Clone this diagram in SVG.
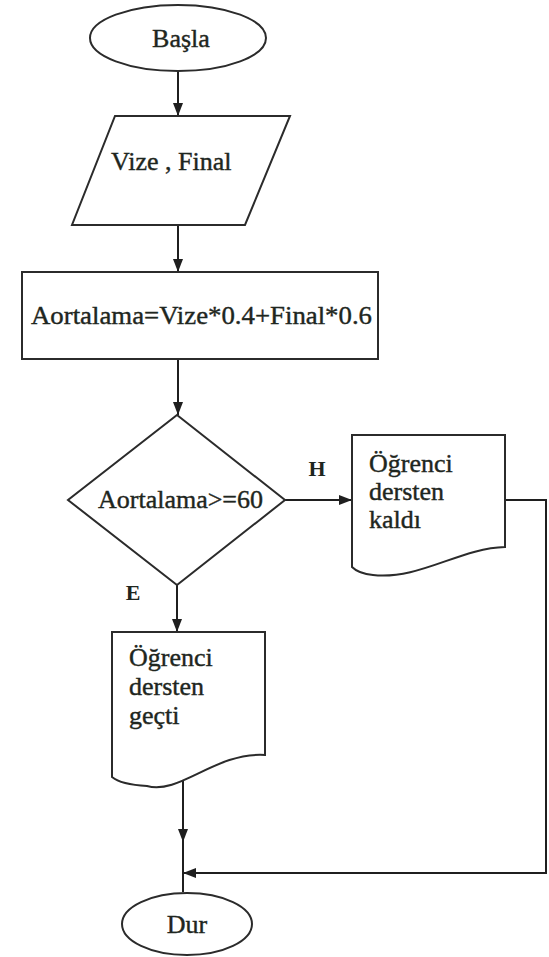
<svg xmlns="http://www.w3.org/2000/svg" width="549" height="957" viewBox="0 0 549 957">
  <style>
    .shape { fill: #ffffff; stroke: #2b2b2b; stroke-width: 2; }
    .wire { fill: none; stroke: #1f1f1f; stroke-width: 2; }
  </style>
  <defs>
    <marker id="arrow" markerUnits="userSpaceOnUse" markerWidth="13" markerHeight="10" refX="13" refY="5" orient="auto">
      <path d="M0,0 L13,5 L0,10 z" fill="#1f1f1f"/>
    </marker>
  </defs>

  <rect width="549" height="957" fill="#ffffff"/>

  <!-- connectors -->
  <g id="connectors">
    <line class="wire" x1="178" y1="71" x2="178" y2="116" marker-end="url(#arrow)"/>
    <line class="wire" x1="178" y1="225" x2="178" y2="272" marker-end="url(#arrow)"/>
    <line class="wire" x1="178" y1="359" x2="178" y2="415" marker-end="url(#arrow)"/>
    <line class="wire" x1="285" y1="500" x2="352" y2="500" marker-end="url(#arrow)"/>
    <line class="wire" x1="177" y1="585" x2="177" y2="632" marker-end="url(#arrow)"/>
    <line class="wire" x1="183" y1="778" x2="183" y2="842" marker-end="url(#arrow)"/>
    <line class="wire" x1="183" y1="840" x2="183" y2="892"/>
    <polyline class="wire" points="505,500 546,500 546,873 183,873" marker-end="url(#arrow)"/>
    <g font-family="'Liberation Serif', serif" font-size="22" font-weight="bold" fill="#1e2620" text-anchor="middle">
      <text x="317" y="476">H</text>
      <text x="133" y="600">E</text>
    </g>
  </g>

  <!-- start -->
  <g id="start">
    <ellipse class="shape" cx="178" cy="38" rx="88" ry="33"/>
    <text x="181" y="47" font-family="'Liberation Serif', serif" font-size="26" fill="#1e2620" stroke="#1e2620" stroke-width="0.4" text-anchor="middle">Başla</text>
  </g>

  <!-- input -->
  <g id="input">
    <polygon class="shape" points="115,116 290,116 245,225 72,225"/>
    <text x="111" y="170" font-family="'Liberation Serif', serif" font-size="26" fill="#1e2620" stroke="#1e2620" stroke-width="0.4">Vize , Final</text>
  </g>

  <!-- average computation -->
  <g id="average">
    <rect class="shape" x="22" y="272" width="356" height="87"/>
    <text x="31" y="324" textLength="341" lengthAdjust="spacingAndGlyphs" font-family="'Liberation Serif', serif" font-size="26" fill="#1e2620" stroke="#1e2620" stroke-width="0.4">Aortalama=Vize*0.4+Final*0.6</text>
  </g>

  <!-- decision -->
  <g id="decision">
    <polygon class="shape" points="177,415 285,500 177,585 68,500"/>
    <text x="98" y="508" textLength="165" lengthAdjust="spacingAndGlyphs" font-family="'Liberation Serif', serif" font-size="26" fill="#1e2620" stroke="#1e2620" stroke-width="0.4">Aortalama&gt;=60</text>
  </g>

  <!-- failed output -->
  <g id="failed">
    <path class="shape" d="M352,435 H505 V547 C460,548 420,580 373,575 C362,574 356,571 352,567 Z"/>
    <g font-family="'Liberation Serif', serif" font-size="26" fill="#1e2620" stroke="#1e2620" stroke-width="0.4">
      <text x="369" y="472">Öğrenci</text>
      <text x="369" y="500">dersten</text>
      <text x="369" y="528">kaldı</text>
    </g>
  </g>

  <!-- passed output -->
  <g id="passed">
    <path class="shape" d="M112,632 H265 V755 C215,752 180,795 147,786 C130,785 118,782 112,777 Z"/>
    <g font-family="'Liberation Serif', serif" font-size="26" fill="#1e2620" stroke="#1e2620" stroke-width="0.4">
      <text x="129" y="666">Öğrenci</text>
      <text x="129" y="695">dersten</text>
      <text x="129" y="724">geçti</text>
    </g>
  </g>

  <!-- end -->
  <g id="end">
    <ellipse class="shape" cx="187" cy="924" rx="65" ry="31"/>
    <text x="187" y="933" font-family="'Liberation Serif', serif" font-size="26" fill="#1e2620" stroke="#1e2620" stroke-width="0.4" text-anchor="middle">Dur</text>
  </g>
</svg>
